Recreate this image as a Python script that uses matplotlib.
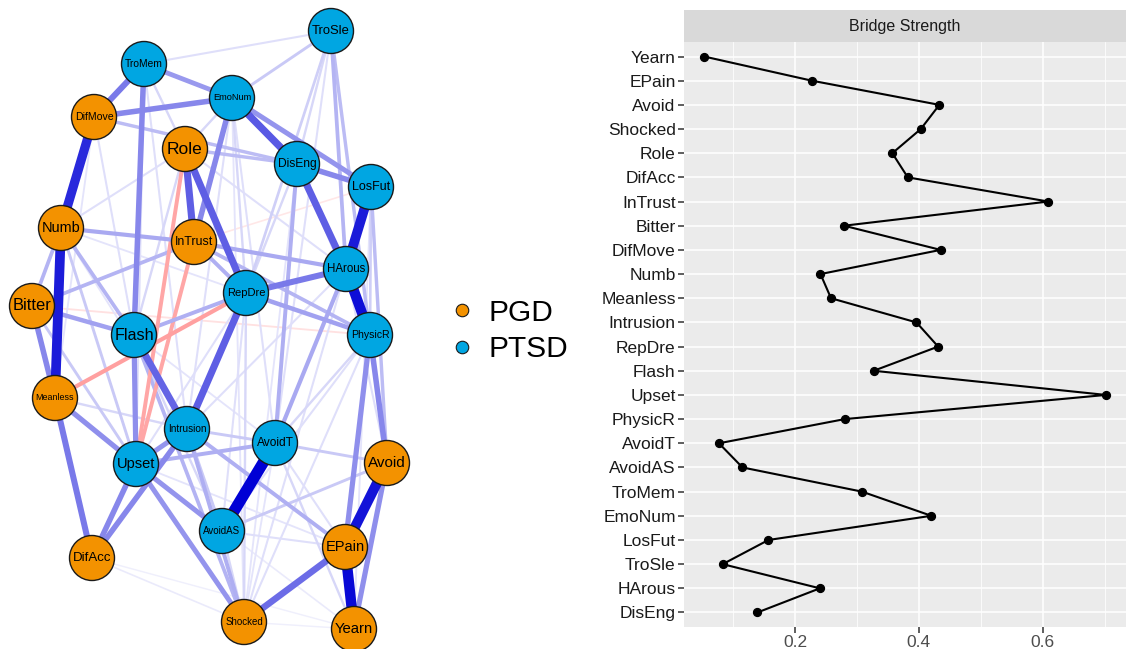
import matplotlib.pyplot as plt
from matplotlib.patches import Circle
from matplotlib.lines import Line2D
from matplotlib.textpath import TextPath
from matplotlib.font_manager import FontProperties
import numpy as np

plt.rcParams['font.family'] = ['Liberation Sans', 'DejaVu Sans']

# --- network: nodes and layout (spring layout, in pixel units of the panel)
node_names = ['TroSle', 'TroMem', 'EmoNum', 'DifMove', 'Role', 'DisEng', 'LosFut', 'Numb',
              'InTrust', 'HArous', 'RepDre', 'Bitter', 'Flash', 'PhysicR', 'Meanless',
              'Intrusion', 'AvoidT', 'Upset', 'Avoid', 'AvoidAS', 'EPain', 'DifAcc',
              'Shocked', 'Yearn']
node_group = ['PTSD', 'PTSD', 'PTSD', 'PGD', 'PGD', 'PTSD', 'PTSD', 'PGD',
              'PGD', 'PTSD', 'PTSD', 'PGD', 'PTSD', 'PTSD', 'PGD',
              'PTSD', 'PTSD', 'PTSD', 'PGD', 'PTSD', 'PGD', 'PGD',
              'PGD', 'PGD']
node_x = [331, 144, 232, 94, 185, 297, 371, 61, 194, 346, 246, 32, 134, 370, 55,
          187, 275, 136, 387, 222, 345, 92, 244, 354]
node_y = [31, 64, 98, 117, 149, 164, 187, 228, 242, 269, 293, 306, 335, 335, 398,
          429, 443, 464, 463, 531, 547, 558, 622, 629]

# --- network: edges (partial correlations, relative to the strongest)
edge_from = ['AvoidT', 'EPain', 'Avoid', 'Numb', 'HArous', 'LosFut', 'DifMove',
             'EmoNum', 'DisEng', 'Role', 'Role', 'RepDre', 'Flash', 'Shocked',
             'TroMem', 'DifMove', 'TroMem', 'PhysicR', 'PhysicR', 'Avoid', 'Meanless',
             'Upset', 'Intrusion', 'EmoNum', 'RepDre', 'DisEng', 'EmoNum', 'Flash',
             'Upset', 'Upset', 'Upset', 'Upset', 'Bitter', 'Bitter', 'TroMem',
             'Numb', 'InTrust', 'InTrust', 'RepDre', 'InTrust', 'Role', 'DifMove',
             'AvoidT', 'HArous', 'Upset', 'Intrusion', 'Intrusion', 'Flash', 'Numb',
             'Numb', 'Bitter', 'TroSle', 'TroSle', 'LosFut', 'AvoidT', 'AvoidAS',
             'AvoidT', 'Flash', 'RepDre', 'EmoNum', 'Numb', 'Meanless', 'Bitter',
             'TroSle', 'TroSle', 'TroSle', 'TroSle', 'TroSle', 'TroMem', 'TroMem',
             'TroMem', 'DifMove', 'DifMove', 'Role', 'Role', 'Role', 'Role',
             'EmoNum', 'EmoNum', 'EmoNum', 'DisEng', 'DisEng', 'DisEng', 'LosFut',
             'LosFut', 'HArous', 'HArous', 'HArous', 'RepDre', 'RepDre', 'Intrusion',
             'Intrusion', 'AvoidT', 'AvoidT', 'AvoidAS', 'AvoidAS', 'PhysicR',
             'PhysicR', 'PhysicR', 'DifAcc', 'DifAcc', 'Shocked', 'Upset', 'Upset',
             'Numb', 'Numb', 'Flash', 'Flash',
             'Meanless', 'Role', 'InTrust', 'Bitter', 'LosFut']
edge_to = ['AvoidAS', 'Yearn', 'EPain', 'Meanless', 'PhysicR', 'HArous', 'Numb',
           'DisEng', 'HArous', 'InTrust', 'RepDre', 'Intrusion', 'Intrusion', 'EPain',
           'DifMove', 'EmoNum', 'Flash', 'Avoid', 'EPain', 'Yearn', 'DifAcc',
           'DifAcc', 'DifAcc', 'InTrust', 'HArous', 'LosFut', 'LosFut', 'Upset',
           'Shocked', 'AvoidAS', 'Meanless', 'Intrusion', 'Meanless', 'Flash', 'EmoNum',
           'InTrust', 'HArous', 'RepDre', 'PhysicR', 'PhysicR', 'DisEng', 'DisEng',
           'DisEng', 'AvoidT', 'AvoidT', 'Shocked', 'EPain', 'RepDre', 'Bitter',
           'Flash', 'InTrust', 'HArous', 'PhysicR', 'Avoid', 'Avoid', 'Avoid',
           'Yearn', 'Shocked', 'Shocked', 'Shocked', 'Upset', 'Intrusion', 'Upset',
           'TroMem', 'EmoNum', 'RepDre', 'DisEng', 'AvoidT', 'Role', 'Intrusion',
           'Upset', 'Flash', 'Meanless', 'EmoNum', 'Numb', 'HArous', 'Flash',
           'RepDre', 'Intrusion', 'AvoidT', 'RepDre', 'PhysicR', 'Shocked', 'PhysicR',
           'Yearn', 'Avoid', 'Shocked', 'Intrusion', 'AvoidAS', 'Upset', 'AvoidT',
           'AvoidAS', 'EPain', 'Shocked', 'Shocked', 'EPain', 'AvoidAS',
           'Shocked', 'AvoidT', 'Shocked', 'Yearn', 'Yearn', 'EPain', 'Yearn',
           'RepDre', 'Intrusion', 'AvoidAS', 'AvoidT',
           'RepDre', 'Upset', 'Upset', 'PhysicR', 'InTrust']
edge_weight = [1.00, 0.92, 0.88, 0.85, 0.90, 0.85, 0.80,
               0.62, 0.60, 0.60, 0.60, 0.60, 0.58, 0.55,
               0.50, 0.45, 0.45, 0.45, 0.42, 0.42, 0.50,
               0.45, 0.45, 0.45, 0.50, 0.45, 0.40, 0.42,
               0.40, 0.40, 0.42, 0.40, 0.45, 0.35, 0.38,
               0.32, 0.32, 0.30, 0.35, 0.28, 0.25, 0.25,
               0.30, 0.32, 0.30, 0.30, 0.30, 0.30, 0.28,
               0.28, 0.28, 0.28, 0.25, 0.25, 0.20, 0.20,
               0.15, 0.28, 0.15, 0.10, 0.20, 0.15, 0.20,
               0.12, 0.20, 0.18, 0.15, 0.12, 0.15, 0.12,
               0.12, 0.12, 0.10, 0.15, 0.12, 0.12, 0.15,
               0.15, 0.12, 0.12, 0.15, 0.15, 0.10, 0.18,
               0.10, 0.12, 0.12, 0.12, 0.12, 0.12, 0.20,
               0.20, 0.12, 0.10, 0.15, 0.12, 0.12,
               0.12, 0.15, 0.08, 0.06, 0.06, 0.10, 0.08,
               0.10, 0.10, 0.15, 0.10,
               -0.32, -0.30, -0.30, -0.10, -0.08]

group_colors = {'PGD': '#F39200', 'PTSD': '#00A6E2'}

# --- bridge strength (top to bottom as displayed)
bridge_nodes = ['Yearn', 'EPain', 'Avoid', 'Shocked', 'Role', 'DifAcc', 'InTrust', 'Bitter',
                'DifMove', 'Numb', 'Meanless', 'Intrusion', 'RepDre', 'Flash', 'Upset',
                'PhysicR', 'AvoidT', 'AvoidAS', 'TroMem', 'EmoNum', 'LosFut', 'TroSle',
                'HArous', 'DisEng']
bridge_strength = [0.053, 0.227, 0.433, 0.403, 0.357, 0.382, 0.609, 0.279,
                   0.435, 0.241, 0.258, 0.396, 0.431, 0.327, 0.702,
                   0.280, 0.077, 0.115, 0.308, 0.420, 0.157, 0.083,
                   0.240, 0.139]

W, H = 1126, 649
fig = plt.figure(figsize=(W / 100, H / 100), dpi=100)

# ---------------- network panel
ax = fig.add_axes([0, 0, 430 / W, 1])
ax.set_xlim(0, 430)
ax.set_ylim(H, 0)
ax.axis('off')

pos = {n: (x, y) for n, x, y in zip(node_names, node_x, node_y)}
pos_base = np.array([0.0, 0.0, 0.835])
neg_base = np.array([1.0, 0.2, 0.2])
order = np.argsort(np.abs(edge_weight))
for i in order:
    w = edge_weight[i]
    a, b = pos[edge_from[i]], pos[edge_to[i]]
    if w > 0:
        f, base = min(1.0, w * 1.05), pos_base
    else:
        f, base = min(1.0, -w * 1.45), neg_base
    col = (1 - f) * np.ones(3) + f * base
    lw = (0.8 + 10.5 * abs(w)) * 0.72
    ax.plot([a[0], b[0]], [a[1], b[1]], color=col, lw=lw,
            solid_capstyle='butt', zorder=1 + abs(w))

fp = FontProperties(family='Liberation Sans')
for n, g in zip(node_names, node_group):
    x, y = pos[n]
    ax.add_patch(Circle((x, y), 22.5, facecolor=group_colors[g],
                        edgecolor='#1a1a1a', lw=1.0, zorder=10))
    w10 = TextPath((0, 0), n, size=10, prop=fp).get_extents().width
    fs = min(12.5, 37 * 0.72 * 10 / w10)
    ax.text(x, y, n, ha='center', va='center', fontsize=fs, color='black', zorder=11)

# ---------------- legend
handles = [Line2D([], [], ls='none', marker='o', markersize=9, markerfacecolor=group_colors[g],
                  markeredgecolor='#1a1a1a', markeredgewidth=0.8) for g in ['PGD', 'PTSD']]
fig.legend(handles, ['PGD', 'PTSD'], loc='center left', frameon=False,
           bbox_to_anchor=(453 / W, 1 - 331 / H), fontsize=21.5,
           handlelength=0.6, handletextpad=0.6, labelspacing=0.28, borderpad=0,
           borderaxespad=0)

# ---------------- bridge strength panel
left, top, bottom = 684 / W, 1 - 42 / H, 1 - 627 / H
bx = fig.add_axes([left, bottom, 1 - left, top - bottom])
yy = np.arange(len(bridge_nodes))[::-1]
bx.set_facecolor('#EBEBEB')
bx.plot(bridge_strength, yy, color='black', lw=1.5, zorder=3)
bx.scatter(bridge_strength, yy, s=32, color='black', zorder=4)
rng = max(bridge_strength) - min(bridge_strength)
bx.set_xlim(min(bridge_strength) - 0.05 * rng, max(bridge_strength) + 0.05 * rng)
bx.set_ylim(-0.6, len(bridge_nodes) - 0.4)
bx.set_yticks(yy)
bx.set_yticklabels(bridge_nodes)
bx.set_xticks([0.2, 0.4, 0.6])
bx.set_xticklabels(['0.2', '0.4', '0.6'])
bx.set_xticks([0.1, 0.3, 0.5, 0.7], minor=True)
bx.grid(True, which='major', color='white', lw=1.1, zorder=0)
bx.grid(True, which='minor', axis='x', color='white', lw=0.55, zorder=0)
bx.set_axisbelow(True)
for s in bx.spines.values():
    s.set_visible(False)
bx.tick_params(which='major', length=4, width=1.1, color='#333333',
               labelsize=12.5, labelcolor='#1a1a1a', pad=2)
bx.tick_params(axis='x', labelcolor='#4d4d4d')
bx.tick_params(which='minor', length=0)

strip = fig.add_axes([left, top, 1 - left, 32 / H])
strip.set_facecolor('#D9D9D9')
strip.set_xticks([])
strip.set_yticks([])
for s in strip.spines.values():
    s.set_visible(False)
strip.text(0.5, 0.5, 'Bridge Strength', ha='center', va='center', fontsize=11.5,
           color='#1a1a1a', transform=strip.transAxes)

fig.savefig('out.png', dpi=100)
